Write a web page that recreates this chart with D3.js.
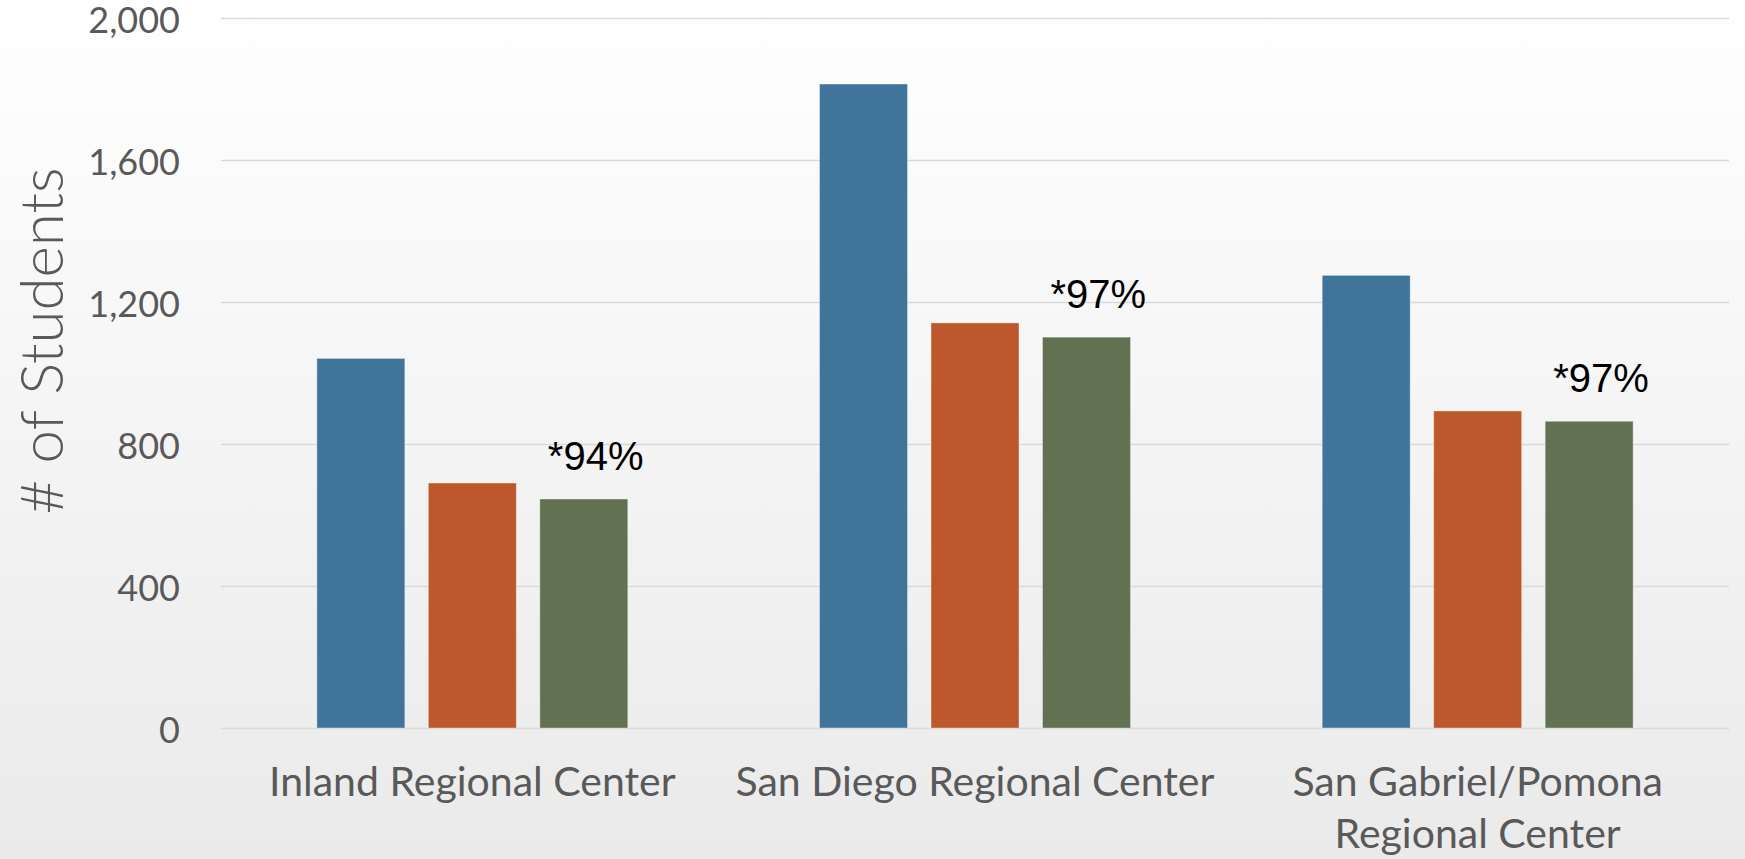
<!DOCTYPE html>
<html>
<head>
<meta charset="utf-8">
<script src="https://cdn.jsdelivr.net/npm/d3@7"></script>
<style>
    html, body { margin: 0; padding: 0; }
    body { width: 1745px; height: 859px; overflow: hidden; }
    .tick text { font-family: Lato, "Noto Sans", sans-serif; font-size: 36px; fill: #595959; }
    .catLabel { font-family: Lato, "Noto Sans", sans-serif; font-size: 41px; fill: #595959; }
    .yTitle { font-family: Lato, "Noto Sans", sans-serif; font-size: 60px; font-weight: 300; fill: #595959; }
    .pctLabel { font-family: "Liberation Sans", Arial, sans-serif; font-size: 40px; fill: #000; }
</style>
</head>
<body>
<div id="chart"></div>
<script>

// data
var centers = ["Inland Regional Center", "San Diego Regional Center", "San Gabriel/Pomona Regional Center"];
var centerLines = [["Inland Regional Center"], ["San Diego Regional Center"], ["San Gabriel/Pomona", "Regional Center"]];
var seriesKeys = ["total", "second", "third"];
var totalValues = [1041, 1814, 1275];
var secondValues = [690, 1141, 893];
var thirdValues = [645, 1101, 864];
var pctLabels = ["*94%", "*97%", "*97%"];
var yTicks = [0, 400, 800, 1200, 1600, 2000];
var seriesColors = ["#41749A", "#BC582C", "#627152"];

var width = 1745, height = 859;
var margin = {top: 18, right: 16, bottom: 131, left: 221};

var svg = d3.select("#chart").append("svg")
    .attr("width", width)
    .attr("height", height);

//background gradient
var grad = svg.append("defs").append("linearGradient")
    .attr("id", "bg")
    .attr("x1", 0).attr("y1", 0)
    .attr("x2", 0).attr("y2", 1);
grad.append("stop").attr("offset", "0%").attr("stop-color", "#ffffff");
grad.append("stop").attr("offset", "100%").attr("stop-color", "#eaeaea");

svg.append("rect")
    .attr("width", width)
    .attr("height", height)
    .attr("fill", "url(#bg)");

var rows = centers.map(function(c, i){
    return {center: c, lines: centerLines[i], values: [totalValues[i], secondValues[i], thirdValues[i]], pct: pctLabels[i]};
});

var x0 = d3.scaleBand()
    .domain(centers)
    .range([margin.left, width - margin.right])
    .paddingInner(0)
    .paddingOuter(0);

var x1 = d3.scaleBand()
    .domain(seriesKeys)
    .range([0, x0.bandwidth()])
    .paddingInner(0.211)
    .paddingOuter(0.86);

var y = d3.scaleLinear()
    .domain([0, 2000])
    .range([height - margin.bottom, margin.top]);

//gridlines + tick labels
var yAxis = d3.axisLeft(y)
    .tickValues(yTicks)
    .tickFormat(d3.format(","))
    .tickSize(-(width - margin.left - margin.right))
    .tickPadding(41);

var gy = svg.append("g")
    .attr("transform", "translate(" + margin.left + ",0)")
    .call(yAxis);
gy.select(".domain").remove();
gy.selectAll(".tick line")
    .attr("stroke", "#d9d9d9")
    .attr("stroke-width", 1.5);
gy.selectAll(".tick text").attr("dy", "0.4em");

//bars
var groups = svg.selectAll(".group")
    .data(rows)
    .enter()
    .append("g")
    .attr("class", "group")
    .attr("transform", function(d){ return "translate(" + x0(d.center) + ",0)"; });

groups.selectAll("rect")
    .data(function(d){ return d.values.map(function(v, i){ return {key: seriesKeys[i], value: v}; }); })
    .enter()
    .append("rect")
    .attr("x", function(d){ return x1(d.key); })
    .attr("y", function(d){ return y(d.value); })
    .attr("width", x1.bandwidth())
    .attr("height", function(d){ return y(0) - y(d.value); })
    .attr("fill", function(d, i){ return seriesColors[i]; })
    .attr("stroke", "rgba(255,255,255,0.35)")
    .attr("stroke-width", 1);

//percentage notes above the third bar
groups.append("text")
    .attr("class", "pctLabel")
    .attr("x", x1("third") + 8)
    .attr("y", function(d){ return y(d.values[2]) - 29; })
    .text(function(d){ return d.pct; });

//category labels
var cat = groups.append("text")
    .attr("class", "catLabel")
    .attr("text-anchor", "middle")
    .attr("x", x0.bandwidth() / 2)
    .attr("y", 796);
cat.selectAll("tspan")
    .data(function(d){ return d.lines; })
    .enter()
    .append("tspan")
    .attr("x", x0.bandwidth() / 2)
    .attr("dy", function(d, i){ return i === 0 ? 0 : 52; })
    .text(function(d){ return d; });

//y axis title
svg.append("text")
    .attr("class", "yTitle")
    .attr("text-anchor", "middle")
    .attr("transform", "translate(63,341) rotate(-90)")
    .text("# of Students");

</script>
</body>
</html>
